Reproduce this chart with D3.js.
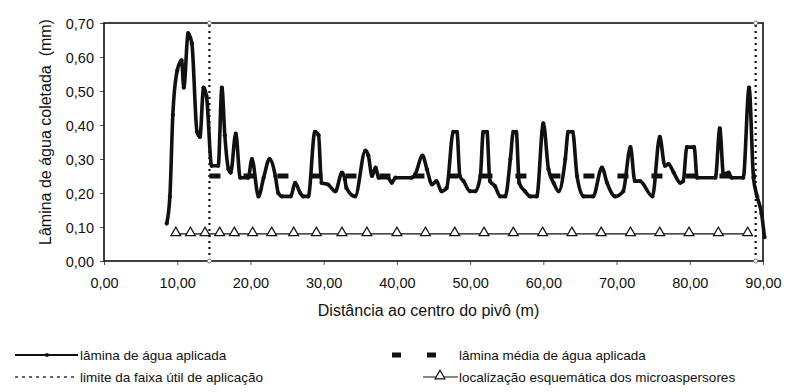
<!DOCTYPE html>
<html>
<head>
<meta charset="utf-8">
<script src="https://cdn.jsdelivr.net/npm/d3@7"></script>
<style>
    html, body { margin: 0; padding: 0; background: #fff; }
    svg { display: block; }
</style>
</head>
<body>
<div id="chart"></div>
<script>
// lâmina de água aplicada (mm) along the pivot radius (m)
const distance = [
    8.56, 9.0, 9.4, 10.0, 10.6, 10.9, 11.5, 12.0, 12.7, 13.1, 13.6, 14.0, 14.7, 15.6,
    16.1, 16.5, 17.0, 17.3, 18.0, 18.6, 19.7, 20.2, 21.1, 21.8, 22.6, 23.4, 23.8, 24.3,
    25.5, 26.1, 26.8, 27.2, 27.9, 28.8, 29.3, 29.7, 30.6, 31.6, 32.5, 32.9, 33.1, 34.3,
    35.7, 36.1, 36.6, 37.1, 37.5, 38.8, 39.3, 39.8, 42.0, 42.5, 43.5, 44.1, 44.8, 45.4,
    46.1, 46.8, 47.7, 48.2, 48.6, 49.1, 50.0, 50.7, 51.4, 51.8, 52.3, 52.7, 53.4, 54.1,
    54.8, 55.5, 55.9, 56.3, 56.7, 57.5, 58.2, 59.1, 60.0, 60.7, 61.4, 62.1, 63.0, 63.4,
    64.0, 64.6, 65.5, 66.8, 68.0, 68.7, 69.8, 70.9, 71.9, 72.5, 73.2, 74.9, 75.9, 76.6,
    77.1, 77.8, 78.7, 79.1, 79.6, 80.6, 81.0, 83.5, 84.1, 84.6, 85.3, 85.7, 87.3, 88.1,
    88.7, 89.2, 89.8, 90.2
];
const lamina = [
    0.11, 0.19, 0.43, 0.56, 0.59, 0.51, 0.67, 0.64, 0.38, 0.365, 0.51, 0.485, 0.28, 0.28,
    0.51, 0.37, 0.27, 0.26, 0.375, 0.245, 0.245, 0.30, 0.19, 0.245, 0.30, 0.25, 0.20, 0.19,
    0.19, 0.23, 0.20, 0.19, 0.19, 0.38, 0.37, 0.23, 0.225, 0.205, 0.26, 0.24, 0.215, 0.19,
    0.325, 0.31, 0.25, 0.275, 0.245, 0.245, 0.23, 0.245, 0.245, 0.255, 0.31, 0.27, 0.225, 0.235,
    0.205, 0.215, 0.38, 0.38, 0.25, 0.235, 0.205, 0.205, 0.25, 0.38, 0.38, 0.235, 0.22, 0.19,
    0.19, 0.30, 0.38, 0.38, 0.23, 0.205, 0.19, 0.19, 0.405, 0.27, 0.23, 0.205, 0.30, 0.38,
    0.38, 0.25, 0.19, 0.19, 0.275, 0.23, 0.19, 0.205, 0.335, 0.235, 0.235, 0.19, 0.365, 0.28,
    0.285, 0.26, 0.23, 0.235, 0.335, 0.335, 0.245, 0.245, 0.39, 0.255, 0.26, 0.245, 0.245, 0.51,
    0.245, 0.19, 0.14, 0.07
];

// lâmina média de água aplicada
const meanDistance = [ 14.4, 89.0 ];
const meanLamina = 0.25;

// limite da faixa útil de aplicação
const usefulLimits = [ 14.4, 89.0 ];

// localização esquemática dos microaspersores
const emitterDistance = [
    9.8, 11.8, 13.8, 15.8, 17.8, 20.3, 22.9, 25.9, 29.0, 32.5, 35.9, 40.0,
    43.9, 47.9, 51.9, 55.9, 59.9, 63.9, 67.9, 71.9, 75.9, 79.9, 83.9, 87.9
];
const emitterLevel = 0.08;

const xTicks = [ 0, 10, 20, 30, 40, 50, 60, 70, 80, 90 ];
const yTicks = [ 0, 0.1, 0.2, 0.3, 0.4, 0.5, 0.6, 0.7 ];

const legendItems = [
    'lâmina de água aplicada',
    'lâmina média de água aplicada',
    'limite da faixa útil de aplicação',
    'localização esquemática dos microaspersores'
];

const FONT = '"Liberation Sans", Arial, sans-serif';
const width = 786, height = 392;
const margin = { top: 23, right: 23, bottom: 131, left: 104 };
const innerWidth = width - margin.left - margin.right;
const innerHeight = height - margin.top - margin.bottom;

const fmt = d => d3.format( '.2f' )( d ).replace( '.', ',' );

const svg = d3.select( '#chart' ).append( 'svg' )
    .attr( 'width', width )
    .attr( 'height', height )
    .attr( 'font-family', FONT );

const chart = svg.append( 'g' )
    .attr( 'transform', `translate(${ margin.left }, ${ margin.top })` );

const xScale = d3.scaleLinear()
    .domain( [ 0, 90 ] )
    .range( [ 0, innerWidth ] );

const yScale = d3.scaleLinear()
    .domain( [ 0, 0.7 ] )
    .range( [ innerHeight, 0 ] );

// axes
const xG = chart.append( 'g' )
    .attr( 'transform', `translate(0, ${ innerHeight })` )
    .call( d3.axisBottom( xScale ).tickValues( xTicks ).tickFormat( fmt ).tickSize( 4 ).tickPadding( 12 ) );

const yG = chart.append( 'g' )
    .call( d3.axisLeft( yScale ).tickValues( yTicks ).tickFormat( fmt ).tickSize( 4 ).tickPadding( 6 ) );

[ xG, yG ].forEach( g => {
    g.select( '.domain' ).remove();
    g.attr( 'fill', null ).attr( 'font-size', 14.5 ).attr( 'font-family', FONT );
    g.selectAll( 'line' ).attr( 'stroke', '#555' );
    g.selectAll( 'text' ).attr( 'fill', '#111' ).attr( 'dy', null );
} );

// explicit baselines instead of em offsets
xG.selectAll( 'text' ).attr( 'y', 27 );
yG.selectAll( 'text' ).attr( 'y', 5 );

// frame
chart.append( 'rect' )
    .attr( 'width', innerWidth )
    .attr( 'height', innerHeight )
    .attr( 'fill', 'none' )
    .attr( 'stroke', '#111' )
    .attr( 'stroke-width', 1.6 );

// useful band limits
usefulLimits.forEach( d => {
    chart.append( 'line' )
        .attr( 'x1', xScale( d ) ).attr( 'x2', xScale( d ) )
        .attr( 'y1', yScale( 0 ) ).attr( 'y2', yScale( 0.7 ) )
        .attr( 'stroke', '#111' )
        .attr( 'stroke-width', 2.2 )
        .attr( 'stroke-dasharray', '2,4' );
    chart.selectAll( null )
        .data( [ 0, 0.7 ] )
        .enter()
        .append( 'circle' )
        .attr( 'cx', xScale( d ) )
        .attr( 'cy', v => yScale( v ) )
        .attr( 'r', 2 )
        .attr( 'fill', '#fff' )
        .attr( 'stroke', '#777' )
        .attr( 'stroke-width', 1 );
} );

// microaspersores
chart.append( 'line' )
    .attr( 'x1', xScale( d3.min( emitterDistance ) ) - 4 )
    .attr( 'x2', xScale( d3.max( emitterDistance ) ) + 4 )
    .attr( 'y1', yScale( emitterLevel ) )
    .attr( 'y2', yScale( emitterLevel ) )
    .attr( 'stroke', '#111' )
    .attr( 'stroke-width', 1.3 );

const triangle = d3.symbol().type( d3.symbolTriangle ).size( 42 );

chart.selectAll( '.emitter' )
    .data( emitterDistance )
    .enter()
    .append( 'path' )
    .attr( 'class', 'emitter' )
    .attr( 'd', triangle )
    .attr( 'transform', d => `translate(${ xScale( d ) }, ${ yScale( emitterLevel ) - 1 })` )
    .attr( 'fill', '#fff' )
    .attr( 'stroke', '#111' )
    .attr( 'stroke-width', 1.2 );

// mean line
chart.append( 'line' )
    .attr( 'x1', xScale( meanDistance[ 0 ] ) )
    .attr( 'x2', xScale( meanDistance[ 1 ] ) )
    .attr( 'y1', yScale( meanLamina ) )
    .attr( 'y2', yScale( meanLamina ) )
    .attr( 'stroke', '#111' )
    .attr( 'stroke-width', 5 )
    .attr( 'stroke-dasharray', '11,23' );

// applied depth
const points = distance.map( ( d, i ) => ( { x: d, y: lamina[ i ] } ) );

const line = d3.line()
    .x( d => xScale( d.x ) )
    .y( d => yScale( d.y ) )
    .curve( d3.curveMonotoneX );

chart.append( 'path' )
    .datum( points )
    .attr( 'd', line )
    .attr( 'fill', 'none' )
    .attr( 'stroke', '#111' )
    .attr( 'stroke-width', 3.6 )
    .attr( 'stroke-linejoin', 'round' );

chart.selectAll( '.pt' )
    .data( points )
    .enter()
    .append( 'circle' )
    .attr( 'class', 'pt' )
    .attr( 'cx', d => xScale( d.x ) )
    .attr( 'cy', d => yScale( d.y ) )
    .attr( 'r', 2.1 )
    .attr( 'fill', '#111' );

// axis titles
svg.append( 'text' )
    .attr( 'x', margin.left + innerWidth / 2 - 5 )
    .attr( 'y', 316 )
    .attr( 'text-anchor', 'middle' )
    .attr( 'font-size', 16 )
    .attr( 'fill', '#111' )
    .text( 'Distância ao centro do pivô (m)' );

svg.append( 'text' )
    .attr( 'transform', `translate(51, ${ margin.top + innerHeight / 2 - 10 }) rotate(-90)` )
    .attr( 'text-anchor', 'middle' )
    .attr( 'font-size', 16 )
    .attr( 'fill', '#111' )
    .style( 'white-space', 'pre' )
    .text( 'Lâmina de água coletada  (mm)' );

// legend
const legend = svg.append( 'g' ).attr( 'font-size', 13.5 ).attr( 'fill', '#111' );
const row1 = 355, row2 = 377;

legend.append( 'line' )
    .attr( 'x1', 15 ).attr( 'x2', 78 ).attr( 'y1', row1 ).attr( 'y2', row1 )
    .attr( 'stroke', '#111' ).attr( 'stroke-width', 2.2 );
legend.append( 'circle' )
    .attr( 'cx', 47 ).attr( 'cy', row1 ).attr( 'r', 2 ).attr( 'fill', '#111' );
legend.append( 'text' ).attr( 'x', 80 ).attr( 'y', row1 + 5 ).text( legendItems[ 0 ] );

legend.append( 'line' )
    .attr( 'x1', 15 ).attr( 'x2', 78 ).attr( 'y1', row2 ).attr( 'y2', row2 )
    .attr( 'stroke', '#333' ).attr( 'stroke-width', 1.6 ).attr( 'stroke-dasharray', '3,4' );
legend.append( 'text' ).attr( 'x', 80 ).attr( 'y', row2 + 5 ).text( legendItems[ 2 ] );

legend.append( 'line' )
    .attr( 'x1', 392 ).attr( 'x2', 442 ).attr( 'y1', row1 ).attr( 'y2', row1 )
    .attr( 'stroke', '#111' ).attr( 'stroke-width', 5 ).attr( 'stroke-dasharray', '9,26' );
legend.append( 'text' ).attr( 'x', 459 ).attr( 'y', row1 + 5 ).text( legendItems[ 1 ] );

legend.append( 'line' )
    .attr( 'x1', 423 ).attr( 'x2', 458 ).attr( 'y1', row2 ).attr( 'y2', row2 )
    .attr( 'stroke', '#111' ).attr( 'stroke-width', 1.2 );
legend.append( 'path' )
    .attr( 'd', triangle )
    .attr( 'transform', `translate(440, ${ row2 - 1 })` )
    .attr( 'fill', '#fff' ).attr( 'stroke', '#111' ).attr( 'stroke-width', 1.2 );
legend.append( 'text' ).attr( 'x', 459 ).attr( 'y', row2 + 5 ).text( legendItems[ 3 ] );
</script>
</body>
</html>
